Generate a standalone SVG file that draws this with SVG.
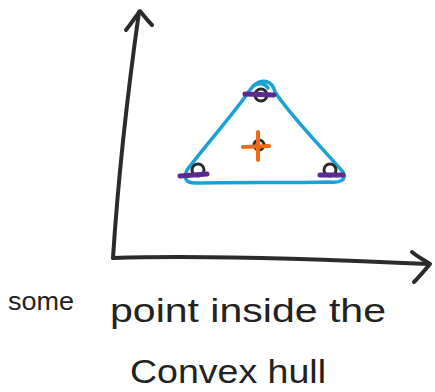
<svg xmlns="http://www.w3.org/2000/svg" width="435" height="392" viewBox="0 0 435 392">
<style>
.ink{fill:none;stroke:#2b2b2b;stroke-width:4;stroke-linecap:round;stroke-linejoin:round}
.hull{fill:none;stroke:#1ba1d6;stroke-width:3.5;stroke-linecap:round;stroke-linejoin:round}
.pt{fill:none;stroke:#2b2b2b;stroke-width:3}
.mark{stroke:#5b2a8e;stroke-width:5;stroke-linecap:round}
.orange{stroke:#f26a10;stroke-width:4;stroke-linecap:round}
.lbl{font-family:"Liberation Sans",sans-serif;fill:#222}
</style>
<rect width="435" height="392" fill="#fff"/>
<g id="axes">
<path class="ink" d="M113,258 C118,180 128,90 139,12"/>
<path class="ink" d="M126,30 C131,24 136,16 140,11 C144,16 148,21 152,25"/>
<path class="ink" d="M113,258 C200,255 300,258 428,264"/>
<path class="ink" d="M412,252 C418,257 424,260 430,264 C425,270 420,276 414,282"/>
</g>
<g id="hull">
<path class="hull" d="M253,86 C262,78 272,80 275,92 C290,115 315,140 343,172 C347,180 340,183 330,182 C290,183 240,182 195,183 C186,183 183,178 187,170 C210,140 235,112 250,90 C255,82 264,82 268,88"/>
</g>
<g id="points">
<circle class="pt" cx="261" cy="95" r="6"/>
<circle class="pt" cx="198" cy="170" r="6"/>
<circle class="pt" cx="330" cy="170" r="6"/>
<circle class="pt" cx="259" cy="145" r="5"/>
<line class="mark" x1="245" y1="94" x2="274" y2="95"/>
<line class="mark" x1="180" y1="176" x2="207" y2="174"/>
<line class="mark" x1="320" y1="175" x2="343" y2="175"/>
<line class="orange" x1="243" y1="147" x2="269" y2="146"/>
<line class="orange" x1="258" y1="132" x2="258" y2="160"/>
</g>
<g id="labels">
<text class="lbl" x="8" y="310" font-size="26" textLength="66" lengthAdjust="spacingAndGlyphs">some</text>
<text class="lbl" x="110" y="322" font-size="34" textLength="276" lengthAdjust="spacingAndGlyphs">point inside the</text>
<text class="lbl" x="130" y="383" font-size="34" textLength="196" lengthAdjust="spacingAndGlyphs">Convex hull</text>
</g>
</svg>
